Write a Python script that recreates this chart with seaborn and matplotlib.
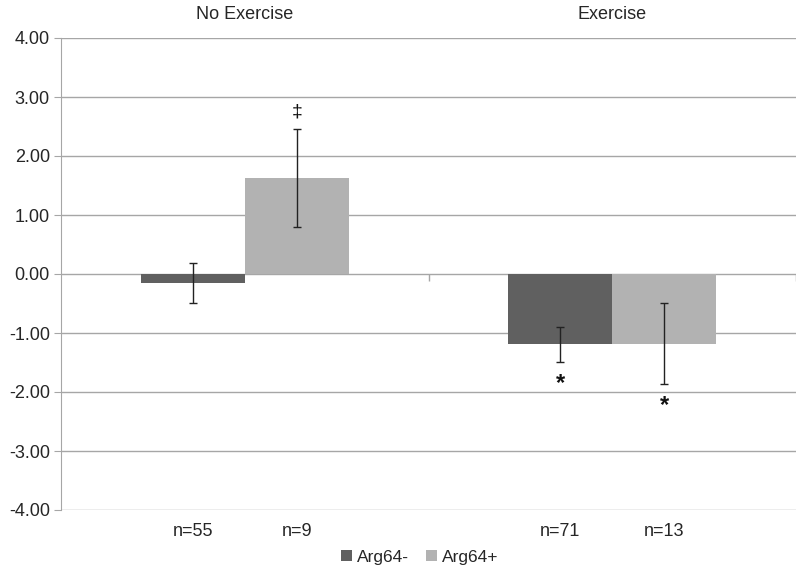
import pandas as pd
import matplotlib.pyplot as plt
import seaborn as sns

# values
groups = ['No Exercise', 'Exercise']
genotypes = ['Arg64-', 'Arg64+']
means_neg = [-0.15, -1.19]
means_pos = [1.62, -1.18]
err_neg = [0.34, 0.30]
err_pos = [0.83, 0.69]
n_labels = [['n=55', 'n=71'], ['n=9', 'n=13']]
marks_neg = ['', '*']
marks_pos = ['‡', '*']

df = pd.DataFrame({
    'group': groups * 2,
    'genotype': [genotypes[0]] * 2 + [genotypes[1]] * 2,
    'value': means_neg + means_pos,
})

sns.set_style('white')
plt.rcParams['font.family'] = ['Liberation Sans', 'DejaVu Sans']

fig = plt.figure(figsize=(8, 5.73), dpi=100)
ax = fig.add_axes([61 / 800, 1 - 510 / 573, 735 / 800, 472 / 573])

grid_col = '#a6a6a6'
ax.set_axisbelow(True)
ax.yaxis.grid(True, color=grid_col, lw=1)

sns.barplot(data=df, x='group', y='value', hue='genotype', order=groups,
            hue_order=genotypes, palette=['#606060', '#b2b2b2'],
            width=0.567, errorbar=None, saturation=1, linewidth=0, ax=ax)

all_err = [err_neg, err_pos]
all_means = [means_neg, means_pos]
all_marks = [marks_neg, marks_pos]
bar_conts = list(ax.containers)
ticks, ticklabels = [], []
for k, cont in enumerate(bar_conts):
    for i, bar in enumerate(cont.patches):
        cx = bar.get_x() + bar.get_width() / 2
        m = all_means[k][i]
        e = all_err[k][i]
        ax.errorbar(cx, m, yerr=e, fmt='none', ecolor='#222222',
                    elinewidth=1.0, capsize=3, capthick=1.0)
        mk = all_marks[k][i]
        if mk == '*':
            ax.text(cx, m - e - 0.36, mk, ha='center', va='center',
                    fontsize=17, fontweight='bold', color='#111111')
        elif mk:
            ax.text(cx, m + e + 0.3, mk, ha='center', va='center',
                    fontsize=14, color='#111111')
        ticks.append(cx)
        ticklabels.append(n_labels[k][i])

ax.set_xlim(-0.5, 1.5)
ax.set_ylim(-4, 4)
ax.set_yticks(range(-4, 5))
ax.set_yticklabels([f'{v:.2f}' for v in range(-4, 5)], fontsize=13)
ax.set_xticks(ticks)
ax.set_xticklabels(ticklabels, fontsize=13)
ax.tick_params(axis='x', length=0, pad=9)
ax.tick_params(axis='y', length=5, color=grid_col, left=True, pad=3)

# small category divider ticks on the zero line
ax.vlines([0.5, 1.5], -0.12, 0, color=grid_col, lw=1)

for s in ['top', 'right', 'bottom']:
    ax.spines[s].set_visible(False)
ax.spines['left'].set_color(grid_col)
ax.set_xlabel('')
ax.set_ylabel('')

top = ax.secondary_xaxis('top')
top.set_xticks(range(len(groups)))
top.set_xticklabels(groups, fontsize=13)
top.tick_params(length=0, pad=11)
top.spines['top'].set_visible(False)

sns.move_legend(ax, 'center', bbox_to_anchor=(0.488, -0.1), ncol=2,
                frameon=False, title=None, fontsize=12.5, handlelength=0.6,
                handleheight=0.6, handletextpad=0.3, columnspacing=1.0)

fig.savefig('out.png', dpi=100)
